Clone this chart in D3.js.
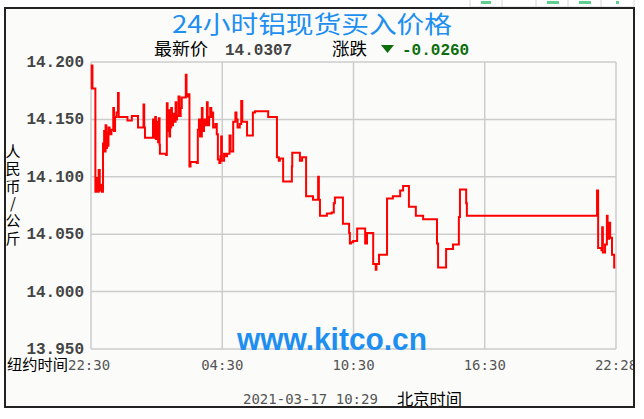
<!DOCTYPE html>
<html>
  <head>
    <meta charset="utf-8">
    <script type="text/javascript" src="https://cdn.jsdelivr.net/npm/d3@7/dist/d3.min.js"></script>
    <style>
        body { margin:0; background:#fff; }
        svg { display:block; }
    </style>
  </head>
  <body>
    <script type="text/javascript">
      // minutes since 22:30 (New York) and price
      var times = [0, 2, 4, 12, 15, 18, 21, 24, 27, 30, 33, 36, 38, 40, 42, 44, 46, 48, 51, 56, 61, 63, 66, 70, 74, 76,
                   100, 112, 129, 144, 146, 148, 170, 172, 176, 178, 182, 184, 186, 188, 189, 206, 208, 210, 213, 215,
                   217, 220, 222, 225, 228, 232, 234, 236, 240, 243, 246, 249, 258, 260, 262, 265, 270, 273, 290, 293,
                   296, 299, 304, 306, 310, 313, 318, 320, 324, 327, 330, 333, 335, 341, 345, 348, 352, 355, 357, 359,
                   365, 370, 373, 380, 383, 390, 396, 399, 402, 408, 412, 415, 420, 428, 444, 450, 486, 510, 515, 518,
                   527, 551, 552, 573, 579, 590, 609, 623, 625, 628, 647, 660, 666, 669, 691, 708, 710, 713, 719, 730,
                   752, 757, 770, 774, 781, 783, 790, 812, 828, 848, 856, 872, 891, 911, 949, 952, 974, 993, 1009, 1012,
                   1029, 1031, 1372, 1388, 1391, 1400, 1402, 1404, 1410, 1415, 1417, 1421, 1424, 1429, 1435, 1438];
      var prices = [14.177, 14.197, 14.177, 14.087, 14.099, 14.087, 14.106, 14.088, 14.093, 14.087, 14.129, 14.140,
                    14.122, 14.145, 14.125, 14.139, 14.127, 14.143, 14.137, 14.141, 14.160, 14.140, 14.152, 14.156,
                    14.173, 14.152, 14.149, 14.153, 14.143, 14.163, 14.143, 14.134, 14.150, 14.134, 14.152, 14.133,
                    14.148, 14.130, 14.151, 14.128, 14.120, 14.119, 14.164, 14.140, 14.158, 14.135, 14.143, 14.160,
                    14.145, 14.155, 14.148, 14.165, 14.150, 14.153, 14.170, 14.153, 14.160, 14.169, 14.169, 14.189,
                    14.170, 14.172, 14.109, 14.113, 14.112, 14.141, 14.150, 14.135, 14.160, 14.140, 14.150, 14.145,
                    14.165, 14.145, 14.152, 14.160, 14.152, 14.156, 14.143, 14.146, 14.137, 14.115, 14.112, 14.118,
                    14.135, 14.114, 14.120, 14.118, 14.120, 14.136, 14.122, 14.148, 14.156, 14.150, 14.143, 14.146,
                    14.166, 14.148, 14.148, 14.136, 14.156, 14.157, 14.152, 14.117, 14.114, 14.116, 14.096, 14.109,
                    14.121, 14.114, 14.117, 14.083, 14.080, 14.100, 14.080, 14.066, 14.068, 14.069, 14.077, 14.082,
                    14.059, 14.051, 14.042, 14.043, 14.044, 14.055, 14.042, 14.051, 14.051, 14.024, 14.019, 14.024,
                    14.032, 14.081, 14.083, 14.088, 14.092, 14.074, 14.066, 14.063, 14.042, 14.021, 14.037, 14.041,
                    14.065, 14.089, 14.077, 14.066, 14.066, 14.088, 14.038, 14.036, 14.056, 14.034, 14.041, 14.066,
                    14.046, 14.060, 14.047, 14.032, 14.021, 14.021];

      var xTickMinutes = [0, 360, 720, 1080, 1440];
      var xTickLabels = ["22:30", "04:30", "10:30", "16:30", "22:28"];
      var yTicks = [13.95, 14.0, 14.05, 14.1, 14.15, 14.2];
      var yTitleChars = ["人", "民", "币", "/", "公", "斤"];

      var width = 644, height = 419;
      var plotLeft = 91, plotRight = 616, plotTop = 62, plotBottom = 349;

      var svg = d3.select("body").append("svg")
          .attr("width", width)
          .attr("height", height);

      // bits of the page above the chart
      var tabX = [470, 502, 536, 568, 601, 634];
      svg.selectAll(".tab")
        .data(tabX)
        .enter().append("line")
          .attr("x1", function(d){ return d; })
          .attr("x2", function(d){ return d; })
          .attr("y1", 0).attr("y2", 7)
          .attr("stroke", "#d8d8d8");
      svg.append("line").attr("x1", 470).attr("x2", 634).attr("y1", 7).attr("y2", 7).attr("stroke", "#d8d8d8");
      [[481, 10], [547, 12], [579, 12], [616, 3]].forEach(function(t){
          svg.append("rect").attr("x", t[0]).attr("y", 1).attr("width", t[1]).attr("height", 3).attr("fill", "#5fcf8f");
      });

      svg.append("rect")
          .attr("x", 5).attr("y", 8)
          .attr("width", 629).attr("height", 399)
          .attr("fill", "#fbfcfa");

      var x = d3.scaleLinear().domain([0, 1440]).range([plotLeft, plotRight]);
      var y = d3.scaleLinear().domain([13.95, 14.2]).range([plotBottom, plotTop]);

      // grid
      svg.selectAll(".hgrid")
        .data(yTicks)
        .enter().append("line")
          .attr("x1", plotLeft).attr("x2", plotRight)
          .attr("y1", function(d){ return y(d); })
          .attr("y2", function(d){ return y(d); })
          .attr("stroke", "#cccccc")
          .attr("stroke-width", 1.5);
      svg.selectAll(".vgrid")
        .data(xTickMinutes)
        .enter().append("line")
          .attr("x1", function(d){ return x(d); })
          .attr("x2", function(d){ return x(d); })
          .attr("y1", plotTop).attr("y2", plotBottom)
          .attr("stroke", "#cccccc")
          .attr("stroke-width", 1.5);

      // watermark
      svg.append("text")
          .attr("x", 237).attr("y", 350)
          .attr("font-family", "Liberation Sans, Arial, sans-serif")
          .attr("font-weight", "bold")
          .attr("font-size", 31)
          .attr("textLength", 190)
          .attr("lengthAdjust", "spacingAndGlyphs")
          .attr("fill", "#1e8ff0")
          .text("www.kitco.cn");

      // price line
      var series = times.map(function(t, i){ return [t, prices[i]]; });
      var line = d3.line()
          .x(function(d){ return x(d[0]); })
          .y(function(d){ return y(d[1]); })
          .curve(d3.curveStepAfter);
      svg.append("path")
          .datum(series)
          .attr("d", line)
          .attr("fill", "none")
          .attr("stroke", "#ff0000")
          .attr("stroke-width", 2);

      // y tick labels
      svg.selectAll(".ylab")
        .data(yTicks)
        .enter().append("text")
          .attr("x", 84)
          .attr("y", function(d){ return y(d) + 5; })
          .attr("text-anchor", "end")
          .attr("font-family", "Liberation Mono, monospace")
          .attr("font-weight", "bold")
          .attr("font-size", 16)
          .attr("fill", "#444")
          .text(function(d){ return d3.format(",.3f")(d); });

      // x tick labels
      svg.selectAll(".xlab")
        .data(xTickMinutes)
        .enter().append("text")
          .attr("x", function(d){ return x(d); })
          .attr("y", 370)
          .attr("text-anchor", function(d, i){ return i == 0 ? "start" : "middle"; })
          .attr("dx", function(d, i){ return i == 0 ? -23 : 0; })
          .attr("font-family", "DejaVu Sans Mono, monospace")
          .attr("font-size", 14)
          .attr("fill", "#555")
          .text(function(d, i){ return xTickLabels[i]; });

      svg.append("text")
          .attr("x", 7).attr("y", 370)
          .attr("font-family", "Noto Sans CJK SC, sans-serif")
          .attr("font-size", 15)
          .attr("textLength", 61)
          .attr("lengthAdjust", "spacingAndGlyphs")
          .attr("fill", "#000")
          .text("纽约时间");

      // y title, one character per row
      svg.selectAll(".ytitle")
        .data(yTitleChars)
        .enter().append("text")
          .attr("x", 13)
          .attr("y", function(d, i){ return 157 + i * 17.3; })
          .attr("text-anchor", "middle")
          .attr("font-family", "Noto Sans CJK SC, sans-serif")
          .attr("font-size", 15)
          .attr("fill", "#000")
          .text(function(d){ return d; });

      // title
      svg.append("text")
          .attr("x", 172).attr("y", 33)
          .attr("font-family", "Noto Sans CJK SC, sans-serif")
          .attr("font-size", 24)
          .attr("textLength", 280)
          .attr("lengthAdjust", "spacingAndGlyphs")
          .attr("fill", "#1e8ff0")
          .text("24小时铝现货买入价格");

      // latest price row
      svg.append("text").attr("x", 154).attr("y", 55)
          .attr("font-family", "Noto Sans CJK SC, sans-serif")
          .attr("font-size", 17).attr("textLength", 54).attr("lengthAdjust", "spacingAndGlyphs")
          .attr("fill", "#000").text("最新价");
      svg.append("text").attr("x", 225).attr("y", 55)
          .attr("font-family", "Liberation Mono, monospace").attr("font-weight", "bold")
          .attr("font-size", 16).attr("fill", "#444").text("14.0307");
      svg.append("text").attr("x", 332).attr("y", 55)
          .attr("font-family", "Noto Sans CJK SC, sans-serif")
          .attr("font-size", 17).attr("textLength", 35).attr("lengthAdjust", "spacingAndGlyphs")
          .attr("fill", "#000").text("涨跌");
      svg.append("path")
          .attr("d", "M381,45 L394,45 L387.5,53 Z")
          .attr("fill", "#0b6e0b");
      svg.append("text").attr("x", 402).attr("y", 55)
          .attr("font-family", "Liberation Mono, monospace").attr("font-weight", "bold")
          .attr("font-size", 16).attr("fill", "#0b6e0b").text("-0.0260");

      // bottom date
      svg.append("text").attr("x", 243).attr("y", 404)
          .attr("font-family", "DejaVu Sans Mono, monospace")
          .attr("font-size", 14).attr("fill", "#555")
          .text("2021-03-17 10:29");
      svg.append("text").attr("x", 397).attr("y", 405)
          .attr("font-family", "Noto Sans CJK SC, sans-serif")
          .attr("font-size", 16).attr("textLength", 65).attr("lengthAdjust", "spacingAndGlyphs")
          .attr("fill", "#000").text("北京时间");

      // outer frame (drawn last so it clips the last tick label)
      svg.append("rect")
          .attr("x", 634).attr("y", 8).attr("width", 10).attr("height", 400)
          .attr("fill", "#fff");
      svg.append("rect")
          .attr("x", 5).attr("y", 8)
          .attr("width", 629).attr("height", 399)
          .attr("fill", "none")
          .attr("stroke", "#222")
          .attr("stroke-width", 2);
    </script>
  </body>
</html>
